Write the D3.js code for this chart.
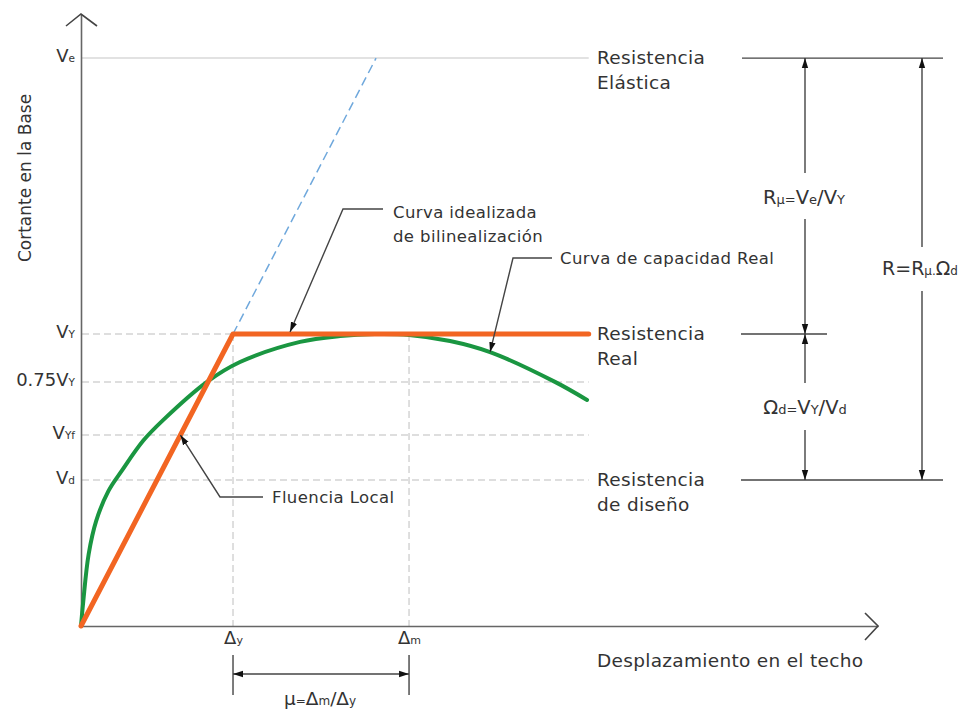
<!DOCTYPE html>
<html>
<head>
<meta charset="utf-8">
<script src="https://cdn.jsdelivr.net/npm/d3@7"></script>
<style>
  body { margin: 0; background: #fff; }
  svg { display: block; }
  text { font-family: "DejaVu Sans", Verdana, sans-serif; fill: #333; }
</style>
</head>
<body>
<svg width="960" height="709"></svg>
<script>
// niveles de cortante (Vy = 1) y desplazamientos (Δy = 1)
var yTickValues = [1.945, 1, 0.836, 0.654, 0.5];
var yTickNames = ['V', 'V', '0.75V', 'V', 'V'];
var yTickSubs = ['e', 'Y', 'Y', 'Yf', 'd'];

var xTickValues = [1, 2.158];
var xTickNames = ['\u0394', '\u0394'];
var xTickSubs = ['y', 'm'];

var xEnd = 3.34;

// curva bilineal idealizada
var bilinearX = [0, 1, 3.34];
var bilinearY = [0, 1, 1];

// extension elastica
var elasticX = [1, 1.941];
var elasticY = [1, 1.945];

// curva de capacidad real
var capX = [0, 0.015, 0.05, 0.1, 0.18, 0.27, 0.41, 0.54, 0.829, 1.046, 1.441, 1.704, 1.934, 2.158, 2.428, 2.691, 3.118, 3.329];
var capY = [0, 0.085, 0.245, 0.36, 0.462, 0.533, 0.635, 0.705, 0.836, 0.904, 0.973, 0.993, 1.0, 0.997, 0.976, 0.938, 0.836, 0.774];

var svg = d3.select('svg');

var x = d3.scaleLinear().domain([0, 5.243]).range([81, 878]);
var y = d3.scaleLinear().domain([0, 2.096]).range([626, 14]);

var defs = svg.append('defs');
defs.append('marker')
  .attr('id', 'arr')
  .attr('viewBox', '0 0 10 8')
  .attr('refX', 10).attr('refY', 4)
  .attr('markerWidth', 10).attr('markerHeight', 8)
  .attr('markerUnits', 'userSpaceOnUse')
  .attr('orient', 'auto-start-reverse')
  .append('path').attr('d', 'M0,0.8L10,4L0,7.2Z').attr('fill', '#111');

function subText(sel, parts, big, small) {
  parts.forEach(function (p) {
    sel.append('tspan')
      .attr('font-size', p[1] ? small : big)
      .text(p[0]);
  });
}

// lineas guia
var g = svg.append('g');
g.append('line')
  .attr('x1', x(0) + 1).attr('x2', x(xEnd))
  .attr('y1', y(yTickValues[0])).attr('y2', y(yTickValues[0]))
  .attr('stroke', '#e2e2e2').attr('stroke-width', 2);

g.selectAll('.hgrid')
  .data(yTickValues.slice(1))
  .enter().append('line')
  .attr('class', 'hgrid')
  .attr('x1', x(0) + 1).attr('x2', x(xEnd))
  .attr('y1', function (d) { return y(d); })
  .attr('y2', function (d) { return y(d); })
  .attr('stroke', '#d4d4d4').attr('stroke-width', 1.5)
  .attr('stroke-dasharray', '7,4');

g.selectAll('.vgrid')
  .data(xTickValues)
  .enter().append('line')
  .attr('class', 'vgrid')
  .attr('x1', function (d) { return x(d); })
  .attr('x2', function (d) { return x(d); })
  .attr('y1', y(1)).attr('y2', y(0))
  .attr('stroke', '#d4d4d4').attr('stroke-width', 1.5)
  .attr('stroke-dasharray', '7,4');

// ejes
var xAxis = svg.append('g')
  .attr('transform', 'translate(0,' + y(0) + ')')
  .call(d3.axisBottom(x).tickValues(xTickValues).tickSize(0).tickSizeOuter(0).tickPadding(11).tickFormat(''));
var yAxis = svg.append('g')
  .attr('transform', 'translate(' + x(0) + ',0)')
  .call(d3.axisLeft(y).tickValues(yTickValues).tickSize(0).tickSizeOuter(0).tickPadding(10).tickFormat(''));

[xAxis, yAxis].forEach(function (a) {
  a.select('.domain').attr('stroke', '#666').attr('stroke-width', 1.6);
});

yAxis.selectAll('.tick text')
  .attr('dy', '0.35em')
  .attr('x', -6)
  .style('font-family', '"DejaVu Sans", Verdana, sans-serif')
  .attr('fill', '#333')
  .each(function (d, i) {
    subText(d3.select(this), [[yTickNames[i], false], [yTickSubs[i], true]], 18, 10.5);
  });

xAxis.selectAll('.tick text')
  .attr('dy', '0.71em')
  .style('font-family', '"DejaVu Sans", Verdana, sans-serif')
  .attr('fill', '#333')
  .each(function (d, i) {
    subText(d3.select(this), [[xTickNames[i], false], [xTickSubs[i], true]], 18, 11);
  });

// puntas de flecha de los ejes
svg.append('path')
  .attr('d', 'M' + (x(0) - 15) + ',' + (y.range()[1] + 12) + 'L' + x(0) + ',' + y.range()[1] + 'L' + (x(0) + 16) + ',' + (y.range()[1] + 12))
  .attr('fill', 'none').attr('stroke', '#444').attr('stroke-width', 1.6);
svg.append('path')
  .attr('d', 'M' + (x.range()[1] - 13) + ',' + (y(0) - 13) + 'L' + x.range()[1] + ',' + y(0) + 'L' + (x.range()[1] - 13) + ',' + (y(0) + 14))
  .attr('fill', 'none').attr('stroke', '#444').attr('stroke-width', 1.6);

// titulos de ejes
svg.append('text')
  .attr('transform', 'translate(31,178) rotate(-90)')
  .attr('text-anchor', 'middle')
  .attr('font-size', 17)
  .text('Cortante en la Base');
svg.append('text')
  .attr('x', 597).attr('y', 667)
  .attr('font-size', 18.5)
  .attr('letter-spacing', 0.3)
  .text('Desplazamiento en el techo');

// curvas
var line = d3.line()
  .x(function (d) { return x(d[0]); })
  .y(function (d) { return y(d[1]); });

svg.append('path')
  .datum(d3.zip(elasticX, elasticY))
  .attr('d', line)
  .attr('fill', 'none').attr('stroke', '#6fa8dc').attr('stroke-width', 1.5)
  .attr('stroke-dasharray', '9,5');

svg.append('path')
  .datum(d3.zip(capX, capY))
  .attr('d', line.curve(d3.curveCatmullRom.alpha(0.5)))
  .attr('fill', 'none').attr('stroke', '#1a9641').attr('stroke-width', 4)
  .attr('stroke-linecap', 'round');

line.curve(d3.curveLinear);
svg.append('path')
  .datum(d3.zip(bilinearX, bilinearY))
  .attr('d', line)
  .attr('fill', 'none').attr('stroke', '#f26522').attr('stroke-width', 5)
  .attr('stroke-linecap', 'round').attr('stroke-linejoin', 'round');

// etiquetas de resistencia
var resLabels = [
  { v: yTickValues[0], l1: 'Resistencia', l2: 'El\u00e1stica' },
  { v: yTickValues[1], l1: 'Resistencia', l2: 'Real' },
  { v: yTickValues[4], l1: 'Resistencia', l2: 'de dise\u00f1o' }
];
resLabels.forEach(function (r) {
  var t = svg.append('text').attr('x', 597).attr('y', y(r.v) + 6).attr('font-size', 18.5).attr('letter-spacing', 0.3);
  t.append('tspan').text(r.l1);
  t.append('tspan').attr('x', 597).attr('dy', 25).text(r.l2);
});

// cotas a la derecha
var dim = svg.append('g').attr('stroke', '#444').attr('stroke-width', 1.4);
dim.append('line').attr('x1', 742).attr('x2', 943).attr('y1', y(yTickValues[0])).attr('y2', y(yTickValues[0]));
dim.append('line').attr('x1', 741).attr('x2', 827).attr('y1', y(1)).attr('y2', y(1));
dim.append('line').attr('x1', 741).attr('x2', 943).attr('y1', y(yTickValues[4])).attr('y2', y(yTickValues[4]));

function arrowSeg(x1, y1, x2, y2) {
  dim.append('line')
    .attr('x1', x1).attr('y1', y1).attr('x2', x2).attr('y2', y2)
    .attr('marker-end', 'url(#arr)');
}
arrowSeg(805, 173, 805, y(yTickValues[0]));
arrowSeg(805, 219, 805, y(1));
arrowSeg(805, 383, 805, y(1));
arrowSeg(805, 430, 805, y(yTickValues[4]));
arrowSeg(922, 247, 922, y(yTickValues[0]));
arrowSeg(922, 291, 922, y(yTickValues[4]));

function formula(cx, cy, parts, big, small) {
  var t = svg.append('text').attr('x', cx).attr('y', cy).attr('text-anchor', 'middle');
  subText(t, parts, big, small);
}
formula(804, 204, [['R', false], ['\u03bc', true], ['=', true], ['V', false], ['e', true], ['/', false], ['V', false], ['Y', true]], 19.5, 13);
formula(805, 414, [['\u03a9', false], ['d', true], ['=', true], ['V', false], ['Y', true], ['/', false], ['V', false], ['d', true]], 19.5, 13);
formula(920, 275, [['R', false], ['=', false], ['R', false], ['\u03bc', true], ['.', true], ['\u03a9', false], ['d', true]], 19, 12);

// cota de ductilidad
dim.append('line').attr('x1', x(xTickValues[0])).attr('x2', x(xTickValues[0])).attr('y1', 655).attr('y2', 695);
dim.append('line').attr('x1', x(xTickValues[1])).attr('x2', x(xTickValues[1])).attr('y1', 655).attr('y2', 695);
dim.append('line')
  .attr('x1', x(xTickValues[0])).attr('x2', x(xTickValues[1]))
  .attr('y1', 674).attr('y2', 674)
  .attr('marker-start', 'url(#arr)').attr('marker-end', 'url(#arr)');
formula((x(xTickValues[0]) + x(xTickValues[1])) / 2 - 1, 705,
  [['\u03bc', false], ['=', true], ['\u0394', false], ['m', true], ['/', false], ['\u0394', false], ['y', true]], 18.5, 12);

// llamadas
var lead = svg.append('g').attr('fill', 'none').attr('stroke', '#444').attr('stroke-width', 1.4);
function leader(pts, tip) {
  lead.append('path')
    .attr('d', d3.line()(pts.concat([tip])))
    .attr('marker-end', 'url(#arr)');
}
leader([[383, 209], [343, 209]], [x(1.375), y(1) - 2]);
leader([[552, 258], [513, 258]], [x(2.691), y(0.938)]);
leader([[263, 497], [220, 497]], [x(yTickValues[3]), y(yTickValues[3])]);

var t1 = svg.append('text').attr('x', 393).attr('y', 218).attr('font-size', 16.5).attr('letter-spacing', 0.4);
t1.append('tspan').text('Curva idealizada');
t1.append('tspan').attr('x', 393).attr('dy', 24).text('de bilinealizaci\u00f3n');
svg.append('text').attr('x', 560).attr('y', 264).attr('font-size', 16.5).attr('letter-spacing', 0.4).text('Curva de capacidad Real');
svg.append('text').attr('x', 272).attr('y', 503).attr('font-size', 16.5).attr('letter-spacing', 0.4).text('Fluencia Local');
</script>
</body>
</html>
